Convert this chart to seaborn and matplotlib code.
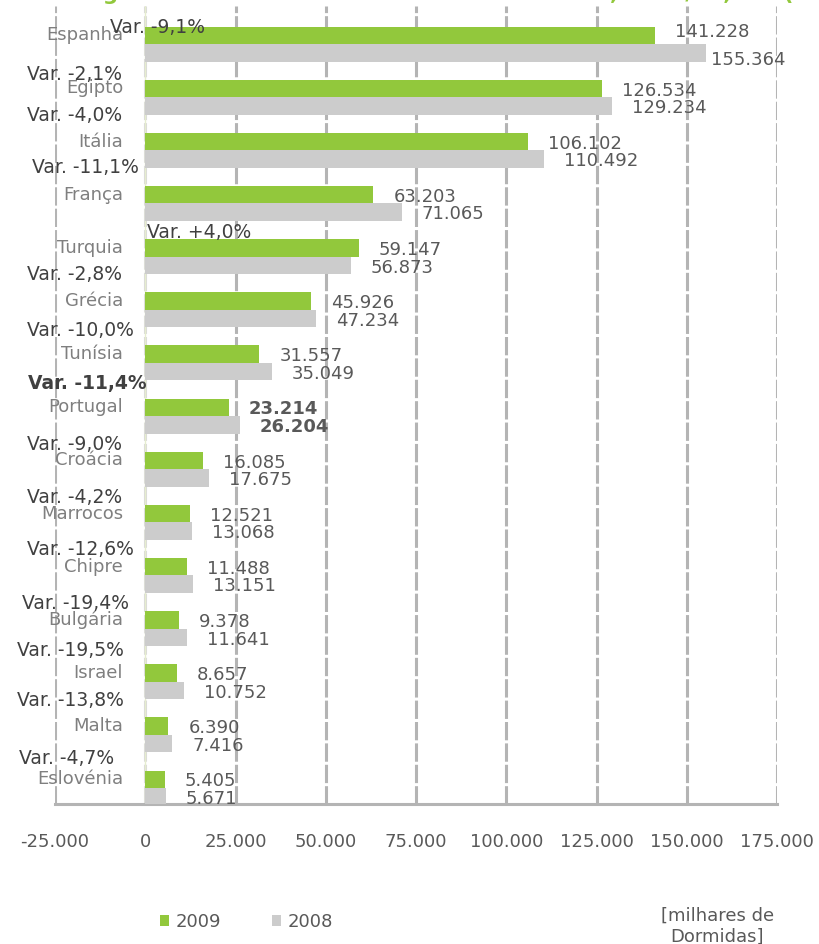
import pandas as pd
import matplotlib
matplotlib.use("Agg")
import matplotlib.pyplot as plt
import seaborn as sns

# Data
countries = ["Espanha", "Egipto", "Itália", "França", "Turquia", "Grécia", "Tunísia",
             "Portugal", "Croácia", "Marrocos", "Chipre", "Bulgária", "Israel", "Malta",
             "Eslovénia"]
dormidas_2009 = [141228, 126534, 106102, 63203, 59147, 45926, 31557,
                 23214, 16085, 12521, 11488, 9378, 8657, 6390, 5405]
dormidas_2008 = [155364, 129234, 110492, 71065, 56873, 47234, 35049,
                 26204, 17675, 13068, 13151, 11641, 10752, 7416, 5671]
variacao = ["-9,1%", "-2,1%", "-4,0%", "-11,1%", "+4,0%", "-2,8%", "-10,0%",
            "-11,4%", "-9,0%", "-4,2%", "-12,6%", "-19,4%", "-19,5%", "-13,8%", "-4,7%"]
x_ticks = [-25000, 0, 25000, 50000, 75000, 100000, 125000, 150000, 175000]
x_tick_labels = ["-25.000", "0", "25.000", "50.000", "75.000", "100.000",
                 "125.000", "150.000", "175.000"]

# positions of the hand-placed "Var." boxes (x in data units, y offset in rows)
var_x = [-9750, -32750, -32750, -31400, 500, -32750, -32750, -32500,
         -32750, -32750, -32750, -34100, -35500, -35500, -35000]
var_dy = [-0.36, -0.47, -0.70, -0.72, -0.50, -0.71, -0.65, -0.66,
          -0.51, -0.51, -0.52, -0.52, -0.62, -0.69, -0.60]

GREEN = "#92C83C"
GREY = "#CCCCCC"
GRID = "#B4B4B4"
TXT = "#595959"

df = pd.DataFrame({"pais": countries, "2009": dormidas_2009, "2008": dormidas_2008})
long = df.melt(id_vars="pais", var_name="ano", value_name="dormidas")

sns.set_style("white")
plt.rcParams["font.family"] = ["DejaVu Sans"]

fig = plt.figure(figsize=(8.19, 9.44), dpi=100)
ax = fig.add_axes([0.0672, 0.1483, 0.8816, 0.8453])

sns.barplot(data=long, y="pais", x="dormidas", hue="ano", hue_order=["2009", "2008"],
            palette=[GREEN, GREY], orient="h", width=0.66, ax=ax, zorder=3,
            saturation=1, linewidth=0)

ax.set_xlim(-25000, 175000)
ax.set_ylim(14.30, -0.715)

# gridlines
for t in x_ticks:
    if t == 0:
        ax.axvline(t, color="#DADADA", lw=2.2, ls=(0, (6, 1)), zorder=1)
        ax.axvline(t, color="#E6EDCF", lw=1.0, zorder=2)
    else:
        ax.axvline(t, color=GRID, lw=2.2, ls=(0, (6, 1)), zorder=1)

for s in ["top", "right", "left"]:
    ax.spines[s].set_visible(False)
ax.spines["bottom"].set_color(GRID)
ax.spines["bottom"].set_linewidth(2.2)

ax.set_xticks(x_ticks)
ax.set_xticklabels(x_tick_labels)
ax.tick_params(axis="x", direction="out", length=5.8, width=2.2, color=GRID,
               labelcolor=TXT, labelsize=13, pad=15)
ax.tick_params(axis="y", left=False, labelleft=False)
ax.set_xlabel("")
ax.set_ylabel("")

# labels
for i, name in enumerate(countries):
    bold = "bold" if name == "Portugal" else "normal"
    ax.text(-6150, i - 0.165, name, ha="right", va="center", fontsize=13,
            color="#7F7F7F", clip_on=False)
    dx1, dy1, dx2, dy2 = 5540, 0.0, 5540, 0.0
    if i == 0:
        dy1, dx2, dy2 = -0.1, 1400, 0.09
    ax.text(dormidas_2009[i] + dx1, i - 0.165 + 0.04 + dy1,
            f"{dormidas_2009[i]:,}".replace(",", "."), ha="left", va="center",
            fontsize=13, color=TXT, fontweight=bold, clip_on=False)
    ax.text(dormidas_2008[i] + dx2, i + 0.165 + 0.04 + dy2,
            f"{dormidas_2008[i]:,}".replace(",", "."), ha="left", va="center",
            fontsize=13, color=TXT, fontweight=bold, clip_on=False)
    ax.text(var_x[i], i + var_dy[i] + 0.04, "Var. " + variacao[i], ha="left", va="center",
            fontsize=13.5, color="#404040", fontweight=bold, clip_on=False, zorder=5)

# legend
handles, labels = ax.get_legend_handles_labels()
ax.legend(handles, labels, ncol=2, loc="center", bbox_to_anchor=(0.301, 0.0233),
          bbox_transform=fig.transFigure, frameon=False, fontsize=13,
          labelcolor=TXT, handlelength=0.5, handleheight=0.6, handletextpad=0.35,
          columnspacing=2.8)

fig.text(0.876, 0.019, "[milhares de\nDormidas]", ha="center", va="center",
         fontsize=13, color=TXT, linespacing=1.25)

# title (mostly cut off by the top edge)
fig.text(0.0245, 0.9995,
         "Ranking dos destinos turísticos do Mediterrâneo, 2009/08, em (milhares de dormidas)",
         ha="left", va="baseline", fontsize=15.5, fontweight="bold", color=GREEN)

fig.savefig("out.png", dpi=100)
